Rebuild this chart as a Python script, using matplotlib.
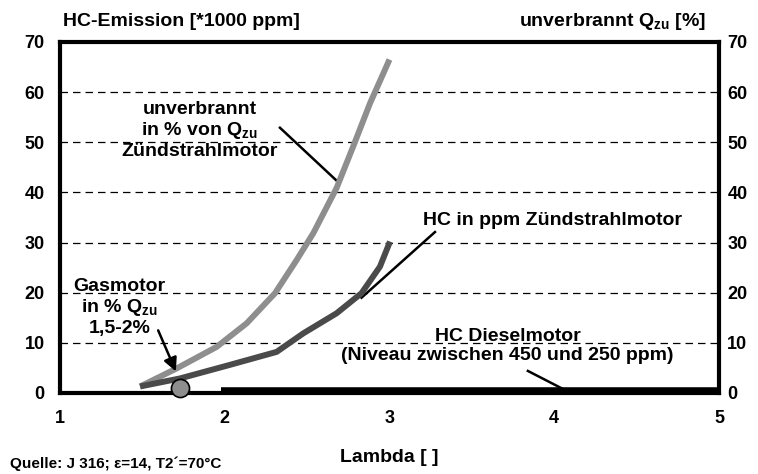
import matplotlib
matplotlib.use('Agg')
import matplotlib.pyplot as plt

plt.rcParams['font.family'] = ['Liberation Sans', 'DejaVu Sans']
plt.rcParams['font.weight'] = 'bold'
plt.rcParams['mathtext.fontset'] = 'custom'
plt.rcParams['mathtext.rm'] = 'Liberation Sans:bold'
plt.rcParams['mathtext.bf'] = 'Liberation Sans:bold'
plt.rcParams['mathtext.default'] = 'bf'

# unverbrannt in % von Qzu, Zuendstrahlmotor
lam_q = [1.486, 1.708, 1.951, 2.133, 2.305, 2.436, 2.538, 2.679, 2.78, 2.882, 3.0]
q_zu = [1.3, 4.9, 9.2, 13.9, 19.9, 26.5, 31.9, 40.9, 49.2, 57.8, 66.5]

# HC in ppm Zuendstrahlmotor (*1000 ppm)
lam_hc = [1.486, 1.728, 2.03, 2.315, 2.477, 2.679, 2.83, 2.942, 3.003]
hc_zs = [1.3, 2.9, 5.6, 8.2, 11.9, 15.9, 19.9, 25.2, 30.2]

# HC Dieselmotor
lam_diesel = [1.975, 5.0]
hc_diesel = [0.6, 0.6]

# Gasmotor point
gas_lam = [1.728]
gas_val = [0.95]

fig = plt.figure(figsize=(7.58, 4.74), dpi=100)
ax = fig.add_axes([0.0792, 0.1709, 0.8693, 0.7405])

ax.set_xlim(1, 5)
ax.set_ylim(0, 70)
ax.set_xticks([1, 2, 3, 4, 5])
ax.set_yticks(range(0, 71, 10))
for v in range(10, 61, 10):
    ax.axhline(v, color='black', lw=0.9, dashes=(6, 4), zorder=1)

ax.plot(lam_q, q_zu, color='#8e8e8e', lw=4.3, solid_capstyle='butt', solid_joinstyle='round', zorder=3)
ax.plot(lam_hc, hc_zs, color='#4a4a4a', lw=4.3, solid_capstyle='butt', solid_joinstyle='round', zorder=3)
ax.plot(lam_diesel, hc_diesel, color='black', lw=4, solid_capstyle='butt', zorder=3, clip_on=False)
ax.scatter(gas_lam, gas_val, s=170, color='#8e8e8e', edgecolor='black', lw=1.2, zorder=5, clip_on=False)

for s in ax.spines.values():
    s.set_linewidth(3)
ax.tick_params(length=0, labelsize=13)
ax.tick_params(axis='x', pad=12)
ax.tick_params(axis='y', pad=11)

ax2 = ax.twinx()
ax2.set_ylim(0, 70)
ax2.set_yticks(range(0, 71, 10))
ax2.tick_params(length=0, labelsize=13, pad=6)
for s in ax2.spines.values():
    s.set_visible(False)

ax.set_xlabel('Lambda [ ]', fontsize=14, fontweight='bold', labelpad=16)

fig.text(0.083, 0.954, 'HC-Emission [*1000 ppm]', fontsize=14, fontweight='bold', va='center')
fig.text(0.931, 0.954, r'unverbrannt Q$_{zu}$ [%]', fontsize=14, fontweight='bold', va='center', ha='right')
fig.text(0.013, 0.012, 'Quelle: J 316; ε=14, T2´=70°C', fontsize=11, fontweight='bold')

ax.text(1.85, 52.3, 'unverbrannt\nin % von Q$_{zu}$\nZündstrahlmotor', ha='center', va='center',
        fontsize=14, fontweight='bold', linespacing=1.15)
ax.plot([2.335, 2.687], [52.9, 42.1], color='black', lw=1.8)

ax.text(3.99, 34.5, 'HC in ppm Zündstrahlmotor', ha='center', va='center', fontsize=14, fontweight='bold')
ax.plot([3.276, 2.83], [32.1, 19.0], color='black', lw=1.8)

ax.text(1.36, 17.0, 'Gasmotor\nin % Q$_{zu}$\n1,5-2%', ha='center', va='center',
        fontsize=14, fontweight='bold', linespacing=1.15)
ax.annotate('', xy=(1.71, 3.8), xytext=(1.589, 13.0),
            arrowprops=dict(arrowstyle='-|>', color='black', lw=1.8, mutation_scale=20))

ax.text(3.716, 9.3, 'HC Dieselmotor\n(Niveau zwischen 450 und 250 ppm)', ha='center', va='center',
        fontsize=14, fontweight='bold', linespacing=1.15)
ax.plot([3.84, 4.065], [4.4, 0.6], color='black', lw=1.8)

fig.savefig('out.png', dpi=100)
